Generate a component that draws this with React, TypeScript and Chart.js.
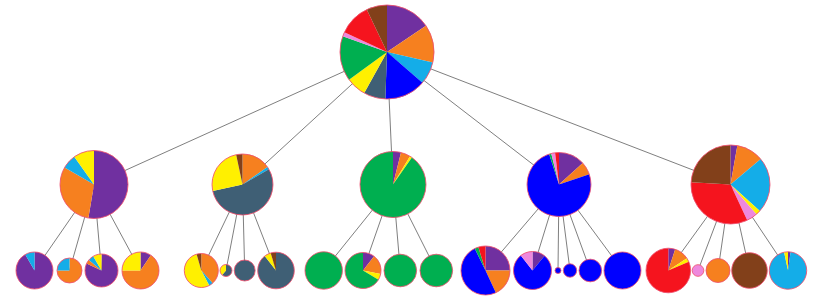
import React, { useEffect, useRef } from "react";
import { Chart, registerables } from "chart.js";

Chart.register(...registerables);

// Ten composition categories (slice order, clockwise from 12 o'clock)
const categories = ["Purple", "Orange", "Light blue", "Blue", "Slate", "Yellow", "Green", "Pink", "Red", "Brown"];
const categoryColors = ["#7030A0", "#F6801F", "#14ADE8", "#0000FF", "#3F5F75", "#FFF000", "#00AF50", "#EE88DD", "#F5141E", "#82401A"];

// Tree: parent index of each node (-1 = root)
const nodeParent = [-1, 0, 0, 0, 0, 0, 1, 1, 1, 1, 2, 2, 2, 2, 3, 3, 3, 3, 4, 4, 4, 4, 4, 4, 5, 5, 5, 5, 5];
// Depth of each node
const nodeDepth = [0, 1, 1, 1, 1, 1, 2, 2, 2, 2, 2, 2, 2, 2, 2, 2, 2, 2, 2, 2, 2, 2, 2, 2, 2, 2, 2, 2, 2];
// Layout coordinate of each node along the horizontal axis
const nodeX = [387, 94, 242.5, 393, 559, 730.5, 34.5, 69.5, 101.5, 140.5, 201.3, 226, 244.7, 276, 323.7, 363, 400.3, 436.3, 485.5, 532.5, 558, 570, 590.3, 622.5, 668.3, 698, 718, 749.5, 788];
// Layout coordinate of each depth level along the vertical axis
const levelY = [52, 184.5, 270.5];
// Node size (area units)
const nodeSize = [2209, 1156, 930, 1089, 1024, 1560, 342, 156, 272, 342, 289, 36, 110, 335, 350, 324, 266, 266, 600, 361, 9, 45, 128, 342, 497, 34, 144, 317, 350];

// Composition of each node, in category order
const shareRoot = [56, 47, 28, 51, 27, 25, 55.5, 5.5, 39.5, 25.5];
const shareA = [189.5, 110.5, 24.5, 0, 0, 35.5, 0, 0, 0, 0];
const shareB = [0, 55, 5, 0, 197.5, 90.5, 0, 0, 0, 12];
const shareC = [14, 17, 0, 0, 0, 4, 325, 0, 0, 0];
const shareD = [48, 23.5, 0, 270.5, 0, 0, 4, 7, 7, 0];
const shareE = [10, 40, 82, 0, 0, 7, 0, 16, 118.4, 86.6];
const shareA1 = [330, 0, 30, 0, 0, 0, 0, 0, 0, 0];
const shareA2 = [0, 270, 90, 0, 0, 0, 0, 0, 0, 0];
const shareA3 = [295, 15, 20, 0, 0, 30, 0, 0, 0, 0];
const shareA4 = [34, 236, 0, 0, 0, 90, 0, 0, 0, 0];
const shareB1 = [0, 138, 14, 0, 0, 192, 0, 0, 0, 16];
const shareB2 = [0, 0, 0, 0, 220, 140, 0, 0, 0, 0];
const shareB3 = [0, 0, 0, 0, 1, 0, 0, 0, 0, 0];
const shareB4 = [0, 0, 0, 0, 322, 21, 0, 0, 0, 17];
const shareC1 = [0, 0, 0, 0, 0, 0, 1, 0, 0, 0];
const shareC2 = [38, 63, 0, 0, 0, 20, 239, 0, 0, 0];
const shareC3 = [0, 0, 0, 0, 0, 0, 1, 0, 0, 0];
const shareC4 = [0, 0, 0, 0, 0, 0, 1, 0, 0, 0];
const shareD1 = [90, 65, 0, 179, 0, 0, 9, 0, 17, 0];
const shareD2 = [39.5, 0, 0, 282.5, 0, 0, 0, 38, 0, 0];
const shareD3 = [0, 0, 0, 1, 0, 0, 0, 0, 0, 0];
const shareD4 = [0, 0, 0, 1, 0, 0, 0, 0, 0, 0];
const shareD5 = [0, 0, 0, 1, 0, 0, 0, 0, 0, 0];
const shareD6 = [0, 0, 0, 1, 0, 0, 0, 0, 0, 0];
const shareE1 = [18, 38.5, 0, 0, 0, 10.5, 0, 0, 293, 0];
const shareE2 = [0, 0, 0, 0, 0, 0, 0, 1, 0, 0];
const shareE3 = [0, 1, 0, 0, 0, 0, 0, 0, 0, 0];
const shareE4 = [0, 0, 0, 0, 0, 0, 0, 0, 0, 1];
const shareE5 = [8, 0, 340, 0, 0, 12, 0, 0, 0, 0];

const nodeShares = [
  shareRoot, shareA, shareB, shareC, shareD, shareE,
  shareA1, shareA2, shareA3, shareA4,
  shareB1, shareB2, shareB3, shareB4,
  shareC1, shareC2, shareC3, shareC4,
  shareD1, shareD2, shareD3, shareD4, shareD5, shareD6,
  shareE1, shareE2, shareE3, shareE4, shareE5,
];

const W = 822;
const H = 297;

const piePlugin = {
  id: "piePlugin",
  afterDatasetsDraw(chart: any) {
    const idx = chart.data.datasets.findIndex((d: any) => d.type === "bubble");
    if (idx < 0) return;
    const meta = chart.getDatasetMeta(idx);
    const ctx = chart.ctx;
    meta.data.forEach((el: any, i: number) => {
      const r = Math.sqrt(nodeSize[i]);
      const shares = nodeShares[i];
      const total = shares.reduce((a, b) => a + b, 0);
      let a0 = -Math.PI / 2;
      ctx.save();
      shares.forEach((v, c) => {
        if (v <= 0) return;
        const a1 = a0 + (v / total) * Math.PI * 2;
        ctx.beginPath();
        ctx.moveTo(el.x, el.y);
        ctx.arc(el.x, el.y, r, a0, a1);
        ctx.closePath();
        ctx.fillStyle = categoryColors[c];
        ctx.fill();
        a0 = a1;
      });
      ctx.beginPath();
      ctx.arc(el.x, el.y, r, 0, Math.PI * 2);
      ctx.strokeStyle = "rgba(238,80,110,0.85)";
      ctx.lineWidth = 1;
      ctx.stroke();
      ctx.restore();
    });
  },
};

export default function App() {
  const ref = useRef<HTMLCanvasElement | null>(null);
  useEffect(() => {
    document.body.style.margin = "0";
    const edgeSets: any[] = [];
    nodeParent.forEach((p, i) => {
      if (p < 0) return;
      edgeSets.push({
        type: "line",
        data: [
          { x: nodeX[p], y: levelY[nodeDepth[p]] },
          { x: nodeX[i], y: levelY[nodeDepth[i]] },
        ],
        borderColor: "#707070",
        borderWidth: 0.9,
        pointRadius: 0,
        fill: false,
        showLine: true,
      });
    });
    const nodes = {
      type: "bubble",
      label: "nodes",
      data: nodeX.map((x, i) => ({ x, y: levelY[nodeDepth[i]], r: Math.sqrt(nodeSize[i]) })),
      backgroundColor: "rgba(0,0,0,0)",
      borderColor: "rgba(0,0,0,0)",
    };
    const chart = new Chart(ref.current as HTMLCanvasElement, {
      type: "scatter",
      data: { datasets: [...edgeSets, nodes] as any },
      options: {
        animation: false,
        responsive: false,
        layout: { padding: 0, autoPadding: false },
        plugins: { legend: { display: false }, tooltip: { enabled: false } },
        scales: {
          x: { type: "linear", min: 0, max: W, display: false },
          y: { type: "linear", min: 0, max: H, reverse: true, display: false },
        },
      },
      plugins: [piePlugin],
    });
    return () => chart.destroy();
  }, []);
  return (
    <div style={{ position: "fixed", left: 0, top: 0, width: W, height: H, background: "#fff" }}>
      <canvas ref={ref} width={W} height={H} style={{ width: W, height: H }} />
    </div>
  );
}
